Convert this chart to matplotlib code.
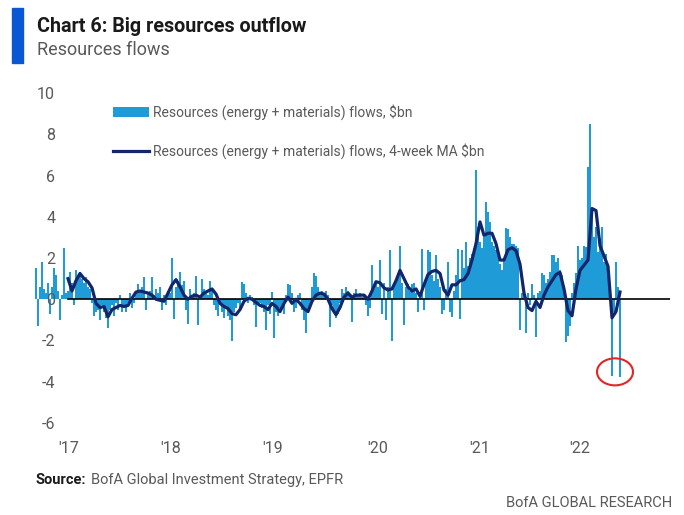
import numpy as np
import matplotlib.pyplot as plt
from matplotlib.patches import Patch, Ellipse, Rectangle
from matplotlib.lines import Line2D

plt.rcParams['font.family'] = ['Roboto', 'DejaVu Sans']

# weekly resources (energy + materials) flows, $bn
flows = [
    1.5, -1.3, 0.6, 1.8, 0.5, 0.3, 0.8, -0.7, 0.6, 1.5,
    1.2, 0.4, -1.0, 0.2, 2.5, 0.3, 0.4, 1.3, 0.8, -0.3,
    1.4, 1.2, 1.3, 1.0, 0.8, 1.1, 0.6, 0.5, -0.2, -0.8,
    -0.6, -0.5, -1.0, -0.3, -0.6, -0.9, -1.4, -0.5, -0.3, -0.8,
    -0.2, -0.5, 0.2, -0.6, -0.3, -0.6, -0.2, 0.3, -0.4, -0.2,
    0.3, 0.75, 0.4, 0.6, 1.1, -0.5, 0.3, 0.4, 1.1, 0.2,
    0.5, 0.3, 0.6, -0.5, 0.2, -0.3, 0.4, 0.3, 2.0, -0.95,
    0.6, 0.9, 1.3, 0.7, 0.9, -0.5, -1.2, 0.5, 0.2, 0.3,
    1.15, -1.25, 0.2, 1.0, 0.5, 0.4, 0.2, 0.9, 0.5, -0.3,
    -0.5, -0.8, -0.3, -0.6, -0.9, -0.4, -0.8, -1.0, -2.0, -0.6,
    -0.4, -0.2, -0.5, 0.85, 0.75, 0.3, -0.2, 0.2, 0.1, -0.3,
    -1.35, -0.3, -0.2, -0.4, -0.6, -1.5, -0.3, -0.7, 0.35, -1.9,
    -0.6, -0.8, -0.4, -0.3, -0.7, 0.2, 0.75, 0.7, 0.3, -0.6,
    -0.4, 0.2, 0.3, -0.5, -1.0, -1.65, -0.6, -0.3, 0.6, 1.25,
    1.15, 0.6, 0.3, 0.4, 0.2, 0.4, 0.2, -1.35, -0.3, -0.5,
    -0.9, -0.7, -0.2, 0.5, 0.3, 0.6, 0.4, 0.2, -1.1, 0.3,
    0.5, 0.2, 0.3, 0.1, 0.2, -0.3, -0.8, -0.4, 1.65, 0.5,
    0.9, 0.6, 1.9, -0.7, 0.8, -1.0, 0.6, 2.4, -2.0, 0.7,
    1.0, 1.2, 2.6, 0.8, -1.25, 0.6, 0.75, 0.4, 0.75, 0.8,
    0.3, -0.6, 0.2, 2.45, -0.5, 1.0, 2.4, 2.3, 1.2, 0.9,
    2.15, 1.0, 0.6, -0.7, -0.5, 0.5, 1.8, -0.6, -0.85, 0.4,
    1.2, 2.45, -0.95, 2.4, 1.5, 2.8, 1.6, 2.0, 2.2, 2.5,
    6.25, 3.5, 2.8, 2.5, 3.0, 4.7, 4.25, 3.75, 2.8, 2.6,
    2.4, 2.2, 1.7, 1.4, 2.0, 3.45, 3.4, 3.0, 2.7, 2.7,
    2.6, 2.5, -1.5, 0.3, 0.2, -1.65, 0.3, -0.3, 0.75, 0.2,
    -1.85, 0.3, 0.4, 1.25, 1.2, 0.8, 1.0, 1.3, 2.15, 2.15,
    1.8, 2.0, 1.4, 1.2, 0.3, -2.05, -1.8, -1.3, 0.3, 0.8,
    1.25, 2.6, 1.9, 2.0, 2.6, 2.55, 6.4, 8.5, 4.0, 3.0,
    3.5, 2.3, 2.95, 3.5, 1.8, 2.2, 1.5, 0.3, -3.7, -0.6,
    1.8, 0.6, -3.75,
]

# 4-week moving average, $bn, read every second week
ma_4wk = [
    1.0, 0.4, 0.9, 1.25, 1.0, 0.85, 0.55, -0.2, -0.4, -0.35,
    -0.85, -0.5, -0.4, -0.3, -0.35, -0.3, 0.05, 0.35, 0.4, 0.35,
    0.3, 0.2, 0.0, -0.05, -0.1, 0.3, 0.7, 0.95, 0.6, 0.2,
    0.0, 0.15, 0.2, 0.1, 0.3, 0.4, 0.5, 0.25, -0.2, -0.35,
    -0.45, -0.7, -0.75, -0.5, -0.1, 0.05, 0.0, -0.15, -0.3, -0.35,
    -0.5, -0.2, -0.35, -0.6, -0.2, 0.1, -0.2, 0.0, -0.2, -0.45,
    -0.6, -0.1, 0.2, 0.3, 0.25, 0.0, -0.45, -0.75, -0.4, 0.1,
    0.3, 0.1, 0.2, 0.2, 0.2, 0.0, 0.4, 0.85, 0.8, 0.55,
    0.45, 0.5, 0.9, 1.4, 1.0, 0.6, 0.4, 0.5, 0.15, 0.7,
    1.2, 1.35, 1.4, 1.25, 0.45, 0.2, 0.7, 0.7, 0.9, 0.95,
    1.25, 1.9, 2.7, 3.75, 3.1, 3.2, 3.2, 2.7, 1.9, 1.9,
    2.4, 2.5, 2.35, 1.7, 0.3, -0.4, -0.55, -0.1, -0.4, 0.2,
    0.6, 0.9, 1.2, 1.3, 0.5, -0.55, -0.8, 0.5, 1.4, 1.65,
    1.9, 4.4, 4.3, 2.6, 2.1, 1.6, -0.9, -0.6, 0.35,
]
ma_start = 16

year_labels = ["'17", "'18", "'19", "'20", "'21", "'22"]
year_pos = [16.5, 67.5, 118.5, 171, 222, 272]

bar_color = '#1F9BD7'
line_color = '#13266B'
grey = '#595959'

W, H = 684, 515
fig = plt.figure(figsize=(W / 100, H / 100), dpi=100)
ax = fig.add_axes([35 / W, (H - 423) / H, 635 / W, 330 / H])

x = np.arange(len(flows))
ma_x = np.arange(ma_start, ma_start + 2 * len(ma_4wk), 2)

ax.bar(x, flows, width=1.35, color=bar_color, linewidth=0)
ax.axhline(0, xmin=(ma_start + 0.5) / 317.5, color='black', lw=1.2, zorder=3)
ax.plot(ma_x, ma_4wk, color=line_color, lw=2.3, zorder=4, solid_joinstyle='round')

ax.add_patch(Ellipse((289.5, -3.52), 18, 1.31, fill=False, edgecolor='#E52521', lw=1.5, zorder=5))

ax.set_xlim(-0.5, 317)
ax.set_ylim(-6, 10)
ax.set_yticks(range(-6, 11, 2))
ax.set_yticklabels([str(v) for v in range(-6, 11, 2)])
ax.set_xticks(year_pos)
ax.set_xticklabels(year_labels)
ax.tick_params(axis='y', length=0, pad=-14.5, labelsize=11.5, labelcolor=grey)
ax.tick_params(axis='x', length=0, pad=13, labelsize=11.5, labelcolor=grey)
for s in ax.spines.values():
    s.set_visible(False)

handles = [Patch(facecolor=bar_color, edgecolor='none'),
           Line2D([0], [0], color=line_color, lw=2.3)]
labels = ['Resources (energy + materials) flows, $bn',
          'Resources (energy + materials) flows, 4-week MA $bn']
fig.legend(handles, labels, loc='upper left', bbox_to_anchor=(113 / W, 1 - 104 / H),
           frameon=False, fontsize=10, labelcolor=grey, handlelength=2.6,
           handleheight=0.7, handletextpad=0.25, labelspacing=1.7, borderpad=0,
           borderaxespad=0)

fig.add_artist(Rectangle((12 / W, 1 - 63 / H), 11 / W, 55 / H, color='#0A57D6',
                         transform=fig.transFigure))
fig.text(37 / W, 1 - 32 / H, 'Chart 6: Big resources outflow', fontsize=14.2,
         fontweight='bold', color='#1a1a1a', va='baseline')
fig.text(37 / W, 1 - 55 / H, 'Resources flows', fontsize=13, color=grey, va='baseline')
fig.text(36 / W, 1 - 484 / H, 'Source:', fontsize=10.5, fontweight='bold',
         color='#1a1a1a', va='baseline')
fig.text(91 / W, 1 - 484 / H, 'BofA Global Investment Strategy, EPFR', fontsize=10.5,
         color=grey, va='baseline')
fig.text(672 / W, 1 - 507 / H, 'BofA GLOBAL RESEARCH', fontsize=10.5, color=grey,
         va='baseline', ha='right')

fig.savefig('out.png', dpi=100)
